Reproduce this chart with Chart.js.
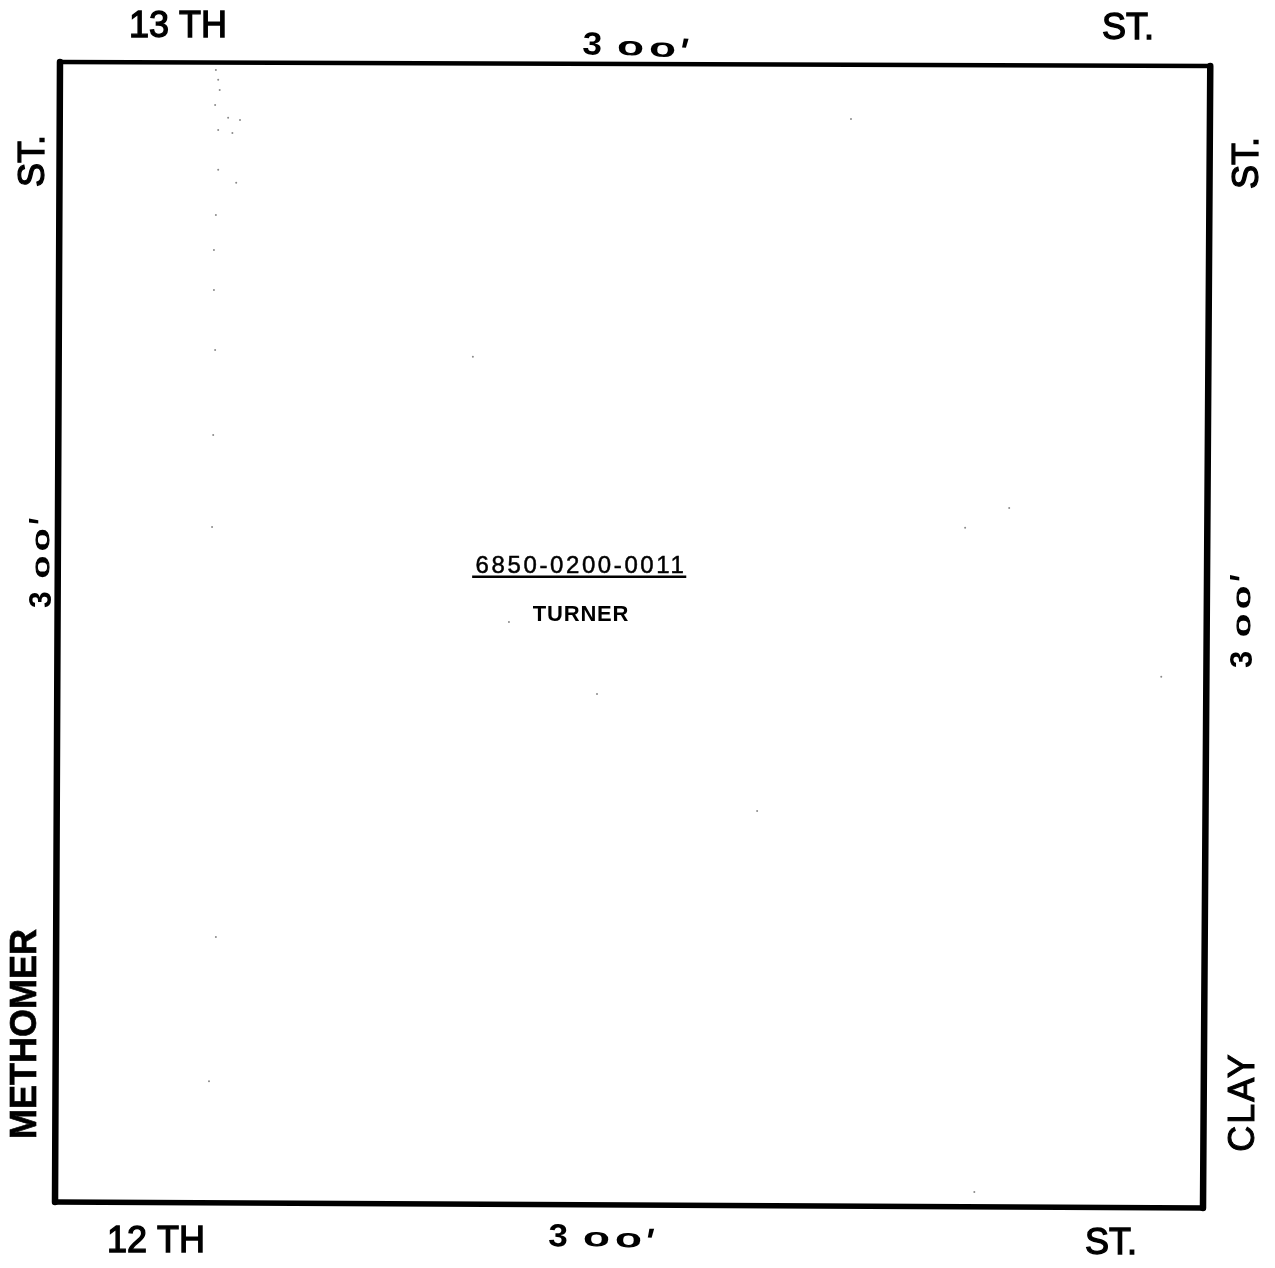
<!DOCTYPE html>
<html>
<head>
<meta charset="utf-8">
<title>6850-0200-0011 Turner</title>
<script src="https://cdn.jsdelivr.net/npm/chart.js@4"></script>
<style>
  html, body { margin: 0; padding: 0; background: #fff; }
  canvas { display: block; }
</style>
</head>
<body>
<canvas id="plat" width="1275" height="1268"></canvas>
<script>
// Parcel outline in feet, corners (it is a little skewed)
const outlineX = [1.3, 301.6, 299.7, 0, 1.3];
const outlineY = [300, 298.9, -1.6, 0, 300];

// Line under the parcel number
const underlineX = [108.9, 164.8];
const underlineY = [164.5, 164.5];

// Stray specks of the scan
const speckX = [207.8, 109.1, 249.1, 237.6, 141.5, 288.8, 183.3, 42, 40.2, 240, 118.5, 41,
  42, 42.6, 43, 41.8, 45.2, 48.3, 42.6, 46.3, 42.6, 47.3, 42, 41.5, 41.5, 41.8, 41.3];
const speckY = [285, 222.4, 182.6, 177.4, 133.7, 138.2, 102.9, 69.7, 31.8, 2.6, 152.6, 177.6,
  297.9, 295.3, 292.6, 288.7, 285.3, 284.7, 282.1, 281.3, 271.6, 268.2, 259.7, 250.5, 240, 224.2, 201.8];

const parcelNumber = '6850-0200-0011';
const ownerName = 'TURNER';
const streetNames = ['13 TH', 'ST.', '12 TH', 'ST.', 'ST.', 'ST.', 'METHOMER', 'CLAY'];
const frontage = "300'";

const toPoints = (xs, ys) => xs.map((x, i) => ({ x: x, y: ys[i] }));

// Top, right, bottom and left side are not the same weight on the drawing
const sideWidths = [4.5, 6.5, 5.5, 6.5];

// Street names around the block: centre x, centre y, rotation, font, letter spacing, extra weight
const streetPlaces = [
  [178, 27, 0, '36px "Liberation Sans"', '0px', 1.3],
  [1128, 29, 0, '36px "Liberation Sans"', '0px', 1.3],
  [156, 1242, 0, '36px "Liberation Sans"', '0px', 1.3],
  [1111, 1244, 0, '36px "Liberation Sans"', '0px', 1.3],
  [34, 161, -90, '36px "Liberation Sans"', '0px', 1.3],
  [1248, 163, -90, '36px "Liberation Sans"', '0px', 1.3],
  [26, 1034, -90, 'bold 36px "Liberation Sans"', '0px', 0.7],
  [1244, 1102, -90, '36px "Liberation Sans"', '2px', 1]
];

// Hand lettered dimensions: start x, start y, rotation, squeeze along the text
const frontagePlaces = [
  [582, 54, 3, 1],
  [548, 1246, 2, 1],
  [51, 608, -90, 0.85],
  [1252, 668, -90, 0.88]
];

function drawHandLettered(ctx, text, x, y, angle, squeeze) {
  ctx.save();
  ctx.translate(x, y);
  ctx.rotate(angle * Math.PI / 180);
  ctx.scale(squeeze, 1);
  ctx.fillStyle = '#000';
  ctx.strokeStyle = '#000';
  ctx.textAlign = 'left';
  ctx.textBaseline = 'alphabetic';
  let pen = 0;
  [...text].forEach((ch) => {
    ctx.save();
    if (ch === '0') {
      // the zeros are wide, flat little ovals
      ctx.translate(pen, -2);
      ctx.scale(2, 0.85);
      ctx.font = '22px "Liberation Sans"';
      ctx.lineWidth = 1.3;
      ctx.fillText(ch, 0, 0);
      ctx.strokeText(ch, 0, 0);
      pen += 32;
    } else if (ch === '3') {
      ctx.translate(pen, 0);
      ctx.scale(1.1, 1);
      ctx.font = 'bold 32px "Liberation Sans"';
      ctx.fillText(ch, 0, 0);
      pen += 36;
    } else {
      ctx.translate(pen - 4, 4);
      ctx.font = 'italic bold 36px "Liberation Sans"';
      ctx.fillText(ch, 0, 0);
    }
    ctx.restore();
  });
  ctx.restore();
}

const platLabels = {
  id: 'platLabels',
  afterDatasetsDraw(chart) {
    const ctx = chart.ctx;
    ctx.save();
    ctx.fillStyle = '#000';
    ctx.strokeStyle = '#000';
    ctx.textAlign = 'center';
    ctx.textBaseline = 'middle';

    streetNames.forEach((name, i) => {
      const p = streetPlaces[i];
      ctx.save();
      ctx.translate(p[0], p[1]);
      ctx.rotate(p[2] * Math.PI / 180);
      ctx.font = p[3];
      ctx.letterSpacing = p[4];
      ctx.fillText(name, 0, 0);
      ctx.lineWidth = p[5];
      ctx.strokeText(name, 0, 0);
      ctx.restore();
    });

    ctx.lineWidth = 0.5;
    ctx.font = '24px "Liberation Sans"';
    ctx.letterSpacing = '2.6px';
    ctx.fillText(parcelNumber, 581, 566);
    ctx.strokeText(parcelNumber, 581, 566);
    ctx.font = 'bold 22px "Liberation Sans"';
    ctx.letterSpacing = '0.8px';
    ctx.fillText(ownerName, 581, 615);
    ctx.letterSpacing = '0px';
    ctx.restore();

    frontagePlaces.forEach((p) => drawHandLettered(ctx, frontage, p[0], p[1], p[2], p[3]));
  }
};

new Chart(document.getElementById('plat'), {
  type: 'scatter',
  data: {
    datasets: [
      {
        label: 'Parcel',
        data: toPoints(outlineX, outlineY),
        showLine: true,
        borderColor: '#000',
        borderWidth: 5,
        borderCapStyle: 'round',
        borderJoinStyle: 'round',
        pointRadius: 0,
        segment: { borderWidth: (c) => sideWidths[c.p0DataIndex] }
      },
      {
        label: 'Underline',
        data: toPoints(underlineX, underlineY),
        showLine: true,
        borderColor: '#000',
        borderWidth: 2.5,
        pointRadius: 0
      },
      {
        label: 'Specks',
        data: toPoints(speckX, speckY),
        showLine: false,
        pointRadius: 1,
        pointBorderWidth: 0,
        pointBackgroundColor: '#8a8a8a'
      }
    ]
  },
  options: {
    responsive: false,
    animation: false,
    devicePixelRatio: 1,
    layout: { padding: 0, autoPadding: false },
    plugins: { legend: { display: false }, tooltip: { enabled: false } },
    scales: {
      x: { type: 'linear', display: false, min: -14.36, max: 318.5 },
      y: { type: 'linear', display: false, min: -17.37, max: 316.3 }
    }
  },
  plugins: [platLabels]
});
</script>
</body>
</html>
